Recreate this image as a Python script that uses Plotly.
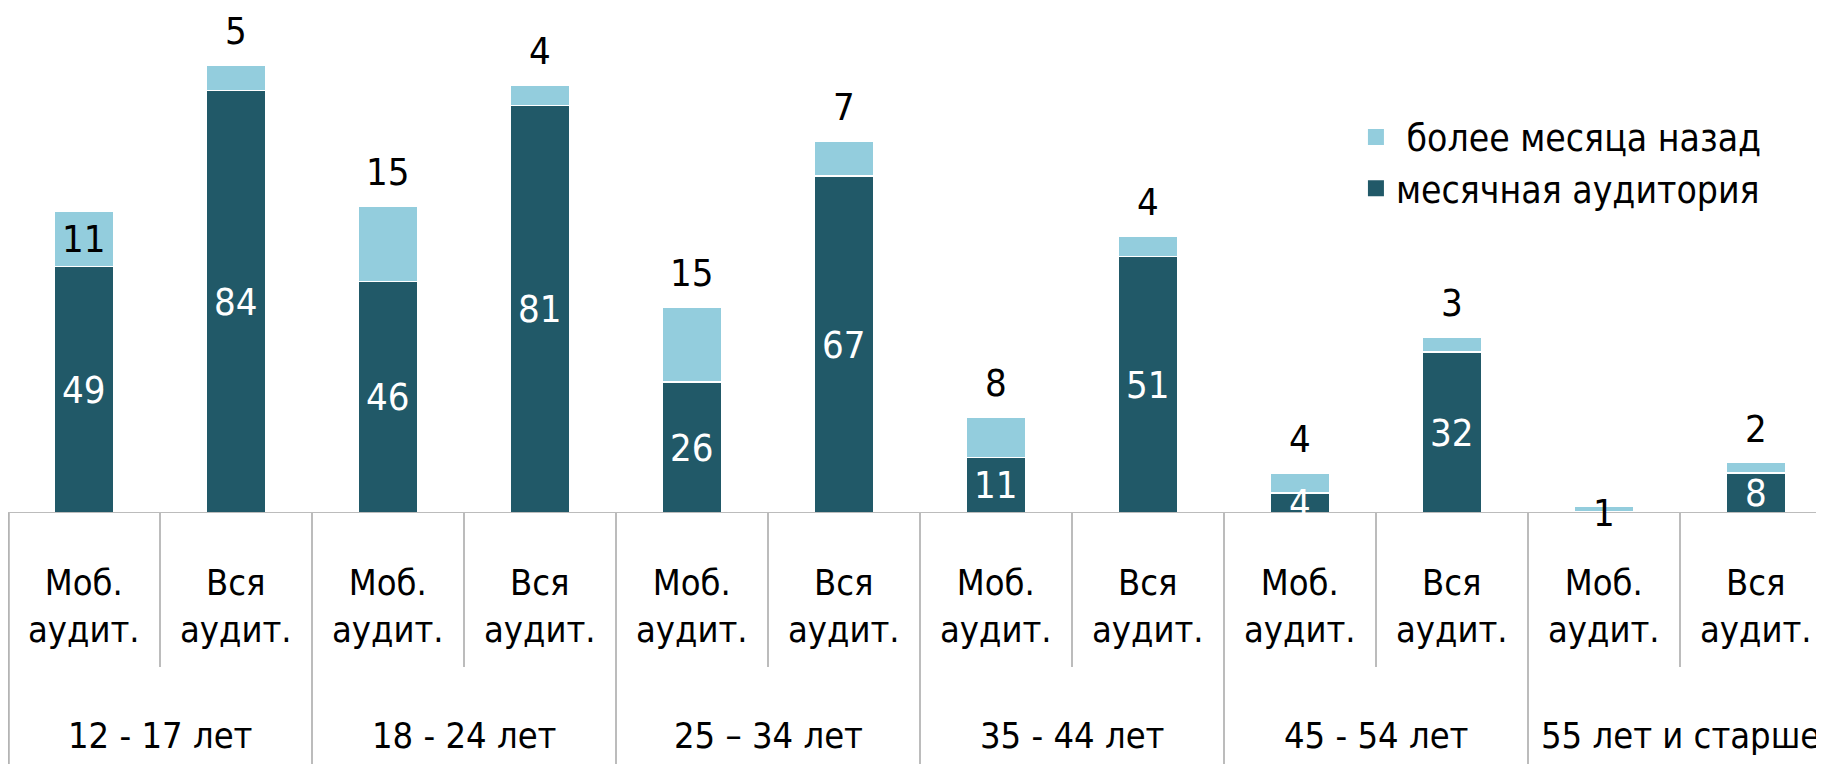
import plotly.graph_objects as go

groups = ["12 - 17 лет", "18 - 24 лет", "25 – 34 лет", "35 - 44 лет", "45 - 54 лет", "55 лет и старше"]
sub_labels = ["Моб.<br>аудит.", "Вся<br>аудит."] * 6
monthly = [49, 84, 46, 81, 26, 67, 11, 51, 4, 32, 0.3, 8]
earlier = [11, 5, 15, 4, 15, 7, 8, 4, 4, 3, 1, 2]
monthly_labels = ["49", "84", "46", "81", "26", "67", "11", "51", "4", "32", "", "8"]
earlier_labels = ["11", "5", "15", "4", "15", "7", "8", "4", "4", "3", "1", "2"]
# where the "earlier" label sits: inside segment, above bar, or on the baseline
earlier_pos = ["in", "out", "out", "out", "out", "out", "out", "out", "out", "out", "base", "out"]

DARK = "#215968"
LIGHT = "#93CDDD"
GRID = "#A6A6A6"
FONT = "Liberation Sans Narrow, Arial Narrow, DejaVu Sans Condensed, sans-serif"

x = list(range(len(monthly)))

fig = go.Figure()
fig.add_trace(go.Bar(x=x, y=monthly, name="месячная аудитория", showlegend=False,
                     marker=dict(color=DARK, line=dict(color="white", width=1.5)), width=0.39))
fig.add_trace(go.Bar(x=x, y=earlier, name=" более месяца назад", showlegend=False,
                     marker=dict(color=LIGHT, line=dict(color="white", width=1.5)), width=0.39))
# legend entries with larger square swatches
fig.add_trace(go.Scatter(x=[None], y=[None], mode="markers", name="месячная аудитория",
                         marker=dict(symbol="square", size=16, color=DARK)))
fig.add_trace(go.Scatter(x=[None], y=[None], mode="markers", name=" более месяца назад",
                         marker=dict(symbol="square", size=16, color=LIGHT)))

annotations = []
for i in x:
    if monthly_labels[i]:
        annotations.append(dict(x=i, y=monthly[i] / 2, text=monthly_labels[i], showarrow=False,
                                font=dict(color="white", size=38, family=FONT), xref="x", yref="y", yanchor="middle"))
    pos = earlier_pos[i]
    if pos == "in":
        annotations.append(dict(x=i, y=monthly[i] + earlier[i] / 2, text=earlier_labels[i], showarrow=False,
                                font=dict(color="black", size=38, family=FONT), yanchor="middle"))
    elif pos == "out":
        annotations.append(dict(x=i, y=monthly[i] + earlier[i], text=earlier_labels[i], showarrow=False,
                                font=dict(color="black", size=38, family=FONT), yanchor="middle", yshift=34))
    else:
        annotations.append(dict(x=i, y=0, text=earlier_labels[i], showarrow=False,
                                font=dict(color="black", size=38, family=FONT), yanchor="middle"))

for i, t in enumerate(sub_labels):
    annotations.append(dict(x=i, y=-0.184, xref="x", yref="paper", text=t, showarrow=False,
                            font=dict(color="black", size=36, family=FONT), yanchor="middle"))
for g, t in enumerate(groups):
    annotations.append(dict(x=2 * g + 0.5, y=-0.44, xref="x", yref="paper", text=t, showarrow=False,
                            font=dict(color="black", size=36, family=FONT), yanchor="middle"))

shapes = [dict(type="line", xref="paper", yref="y", x0=0, x1=1, y0=0, y1=0, line=dict(color=GRID, width=1.5))]
for k in range(len(x) + 1):
    y1 = -0.53 if k % 2 == 0 else -0.305
    shapes.append(dict(type="line", xref="x", yref="paper", x0=k - 0.5 + (0.006 if k == 0 else 0), x1=k - 0.5 + (0.006 if k == 0 else 0),
                       y0=0, y1=y1, line=dict(color=GRID, width=1.5)))

fig.update_layout(
    barmode="stack",
    width=1824, height=764,
    margin=dict(l=0, r=0, t=0, b=259),
    plot_bgcolor="white", paper_bgcolor="white",
    xaxis=dict(range=[-0.5, 11.5], showticklabels=False, showgrid=False, zeroline=False, showline=False, ticks=""),
    yaxis=dict(range=[0, 100.4], visible=False),
    showlegend=True,
    legend=dict(x=0.739, y=0.805, xanchor="left", yanchor="top", traceorder="reversed",
                font=dict(size=37, family=FONT, color="black"), bgcolor="rgba(0,0,0,0)"),
    annotations=annotations,
    shapes=shapes,
    font=dict(family=FONT),
)

fig.write_html("out.html")
